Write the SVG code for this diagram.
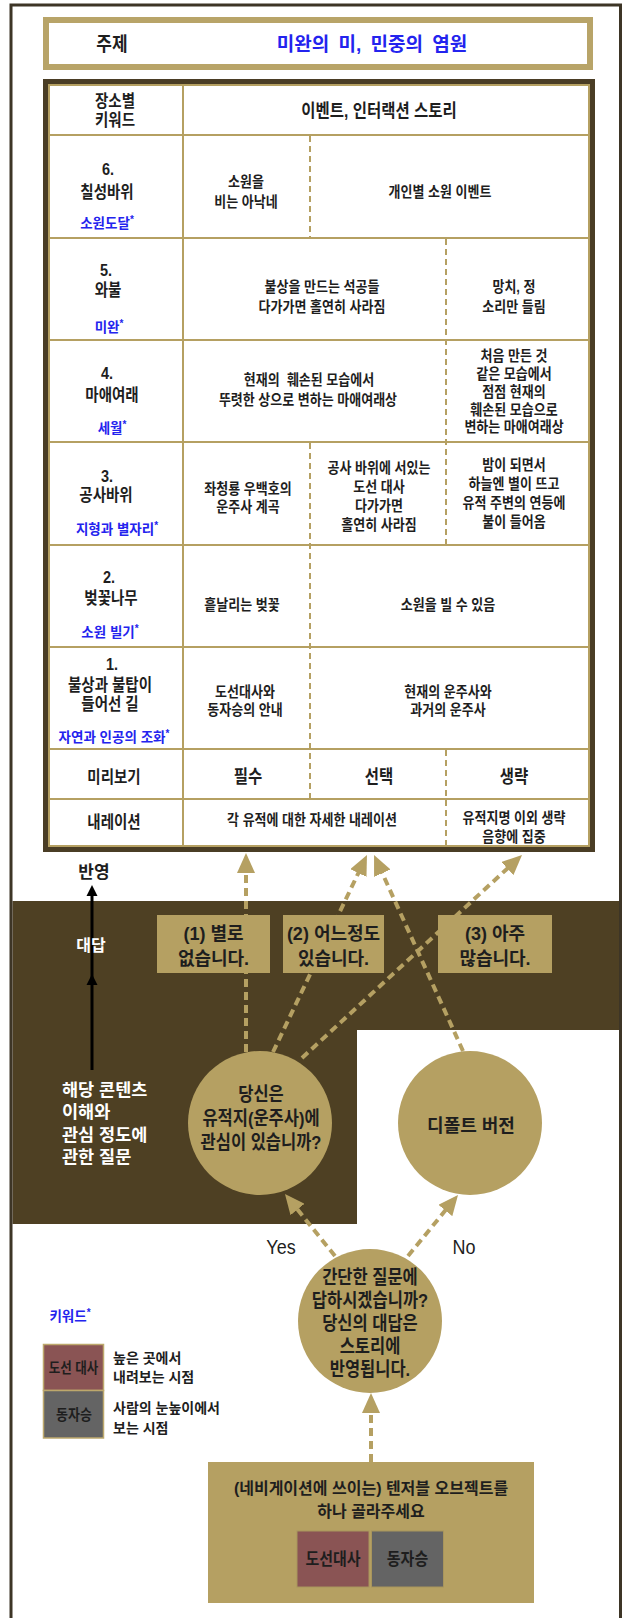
<svg xmlns="http://www.w3.org/2000/svg" width="625" height="1618" viewBox="0 0 625 1618">
<style>
text{font-family:"Liberation Sans","Noto Sans CJK KR",sans-serif;fill:#1e1e1e;text-anchor:middle;dominant-baseline:central;font-weight:bold}
.n{transform-box:fill-box;transform-origin:center;transform:scaleY(1.15)}
.tc{font-size:13px}
.tp{font-size:14.5px}
.kw{font-size:13.5px;font-weight:bold;fill:#2323ee}
.hd{font-size:15.5px}
.ans{font-size:18px}
.cir{font-size:16.5px}
.wt{font-size:17.5px;font-weight:bold;fill:#ffffff;text-anchor:start}
.lg{font-size:14px;text-anchor:start}
.en{font-size:18px;font-weight:normal}
.gl{stroke:#b5a062;stroke-width:2;fill:none}
.gd{stroke:#b5a062;stroke-width:2;stroke-dasharray:6 4;fill:none}
.con{stroke:#b5a062;stroke-width:4;stroke-dasharray:8 5;fill:none}
.gold{fill:#b5a062}
.red{fill:#8a5454;stroke:#bda86c;stroke-width:1.5}
.gray{fill:#646464;stroke:#bda86c;stroke-width:1.5}
</style>
<defs>
<marker id="ah" markerUnits="userSpaceOnUse" markerWidth="20" markerHeight="18" refX="8" refY="9" orient="auto"><path d="M0,0L20,9L0,18Z" fill="#b5a062"/></marker>
</defs>

<g id="band"><polygon points="12.5,901 620,901 620,1030 357,1030 357,1224 12.5,1224" fill="#4e4023"/></g>
<g id="frame"><path d="M11,1618V5H620.5V1618" fill="none" stroke="#3d3526" stroke-width="3"/></g>

<g id="topic">
<rect x="46" y="20" width="544" height="47" fill="#ffffff" stroke="#b8a468" stroke-width="6"/>
<text class="n" x="112" y="44" font-size="17">주제</text>
<text x="372" y="44" font-size="19" style="fill:#2323ee;word-spacing:4px">미완의 미, 민중의 염원</text>
</g>

<g id="table">
<rect x="46" y="82" width="546" height="767" fill="#ffffff" stroke="#4a3d25" stroke-width="6"/>
<rect x="49" y="85" width="540" height="761" class="gl" stroke-width="1.5"/>
<path class="gl" d="M49,135H589M49,238H589M49,340H589M49,442H589M49,545H589M49,647H589M49,749H589M49,799H589M183,85V846"/>
<path class="gd" d="M310,136V237M310,443V798M446,239V544M446,750V846"/>

<g id="row-head">
<text class="n tp" font-size="14"><tspan x="115" y="101.96">장소별</tspan><tspan x="115" y="118.04">키워드</tspan></text>
<text class="n hd" x="379" y="111">이벤트, 인터랙션 스토리</text>
</g>
<g id="row-6">
<text class="n tp"><tspan x="108" y="170.5">6.</tspan><tspan x="107" y="190.5">칠성바위</tspan></text>
<text class="kw" x="107" y="223">소원도달<tspan dy="-4" font-size="10">*</tspan></text>
<text class="n tc"><tspan x="246" y="183.3">소원을</tspan><tspan x="246" y="200.7">비는 아낙네</tspan></text>
<text class="n tc" x="440" y="192">개인별 소원 이벤트</text>
</g>
<g id="row-5">
<text class="n tp"><tspan x="106" y="271.3">5.</tspan><tspan x="108" y="288.7">와불</tspan></text>
<text class="kw" x="109" y="327">미완<tspan dy="-4" font-size="10">*</tspan></text>
<text class="n tc"><tspan x="322" y="288.3">불상을 만드는 석공들</tspan><tspan x="322" y="305.2">다가가면 홀연히 사라짐</tspan></text>
<text class="n tc"><tspan x="514" y="288.3">망치, 정</tspan><tspan x="514" y="305.2">소리만 들림</tspan></text>
</g>
<g id="row-4">
<text class="n tp"><tspan x="107" y="374.4">4.</tspan><tspan x="112" y="393.6">마애여래</tspan></text>
<text class="kw" x="112" y="428">세월<tspan dy="-4" font-size="10">*</tspan></text>
<text class="n tc"><tspan x="309" y="381.3">현재의&#160; 훼손된 모습에서</tspan><tspan x="308" y="398.7">뚜렷한 상으로 변하는 마애여래상</tspan></text>
<text class="n tc"><tspan x="514" y="360.6">처음 만든 것</tspan><tspan x="514" y="376.1">같은 모습에서</tspan><tspan x="514" y="391.5">점점 현재의</tspan><tspan x="514" y="406.9">훼손된 모습으로</tspan><tspan x="514" y="422.4">변하는 마애여래상</tspan></text>
</g>
<g id="row-3">
<text class="n tp"><tspan x="107" y="477.2">3.</tspan><tspan x="106" y="493.8">공사바위</tspan></text>
<text class="kw" x="117" y="529">지형과 별자리<tspan dy="-4" font-size="10">*</tspan></text>
<text class="n tc"><tspan x="248" y="489.7">좌청룡 우백호의</tspan><tspan x="248" y="505.3">운주사 계곡</tspan></text>
<text class="n tc"><tspan x="379" y="471.7">공사 바위에 서있는</tspan><tspan x="379" y="488.2">도선 대사</tspan><tspan x="379" y="504.8">다가가면</tspan><tspan x="379" y="521.3">홀연히 사라짐</tspan></text>
<text class="n tc"><tspan x="514" y="468.7">밤이 되면서</tspan><tspan x="514" y="485.2">하늘엔 별이 뜨고</tspan><tspan x="514" y="501.8">유적 주변의 연등에</tspan><tspan x="514" y="518.3">불이 들어옴</tspan></text>
</g>
<g id="row-2">
<text class="n tp"><tspan x="109" y="578.4">2.</tspan><tspan x="111" y="596.6">벚꽃나무</tspan></text>
<text class="kw" x="110" y="632">소원 빌기<tspan dy="-4" font-size="10">*</tspan></text>
<text class="n tc" x="242" y="605">흩날리는 벚꽃</text>
<text class="n tc" x="448" y="605">소원을 빌 수 있음</text>
</g>
<g id="row-1">
<text class="n tp"><tspan x="112" y="666.6">1.</tspan><tspan x="110" y="684.85">불상과 불탑이</tspan><tspan x="110" y="701.1">들어선 길</tspan></text>
<text class="kw" x="114" y="737">자연과 인공의 조화<tspan dy="-4" font-size="10">*</tspan></text>
<text class="n tc"><tspan x="245" y="693.2">도선대사와</tspan><tspan x="245" y="708.8">동자승의 안내</tspan></text>
<text class="n tc"><tspan x="448" y="693.2">현재의 운주사와</tspan><tspan x="448" y="708.8">과거의 운주사</tspan></text>
</g>
<g id="row-preview">
<text class="n tp" x="114" y="777" font-size="15">미리보기</text>
<text class="n hd" x="248" y="777">필수</text>
<text class="n hd" x="379" y="777">선택</text>
<text class="n hd" x="514" y="777">생략</text>
</g>
<g id="row-narration">
<text class="n tp" x="114" y="822" font-size="15">내레이션</text>
<text class="n tc" x="312" y="819.5">각 유적에 대한 자세한 내레이션</text>
<text class="n tc"><tspan x="514" y="818.7">유적지명 이외 생략</tspan><tspan x="514" y="835.3">음향에 집중</tspan></text>
</g>
</g>

<g id="connectors">
<line class="con" x1="246" y1="1052" x2="246" y2="865" marker-end="url(#ah)"/>
<line class="con" x1="273" y1="1052" x2="361.8" y2="865.8" marker-end="url(#ah)"/>
<line class="con" x1="302" y1="1058" x2="513.2" y2="863.1" marker-end="url(#ah)"/>
<line class="con" x1="463" y1="1051" x2="379" y2="865.9" marker-end="url(#ah)"/>
<line class="con" x1="335" y1="1256" x2="292.5" y2="1203.3" marker-end="url(#ah)"/>
<line class="con" x1="408" y1="1256" x2="450.4" y2="1204.3" marker-end="url(#ah)"/>
<line class="con" x1="371" y1="1462" x2="371" y2="1405" marker-end="url(#ah)"/>
<line x1="92" y1="1070" x2="92" y2="894" stroke="#000000" stroke-width="3"/>
<polygon points="92,885 86.5,896 97.5,896" fill="#000000"/>
<polygon points="92,974 86.5,985 97.5,985" fill="#000000"/>
</g>

<g id="labels-left">
<text x="94" y="872" font-size="17">반영</text>
<text x="91" y="945" font-size="16" style="fill:#ffffff">대답</text>
<text class="wt"><tspan x="62" y="1090">해당 콘텐츠</tspan><tspan x="62" y="1112">이해와</tspan><tspan x="62" y="1135">관심 정도에</tspan><tspan x="62" y="1157">관한 질문</tspan></text>
</g>

<g id="answer-1">
<rect class="gold" x="157" y="915" width="113" height="58"/>
<text class="ans"><tspan x="213.5" y="934">(1) 별로</tspan><tspan x="213.5" y="959">없습니다.</tspan></text>
</g>
<g id="answer-2">
<rect class="gold" x="283" y="915" width="101" height="58"/>
<text class="ans"><tspan x="333.5" y="934">(2) 어느정도</tspan><tspan x="333.5" y="959">있습니다.</tspan></text>
</g>
<g id="answer-3">
<rect class="gold" x="438" y="915" width="114" height="58"/>
<text class="ans"><tspan x="495" y="934">(3) 아주</tspan><tspan x="495" y="959">많습니다.</tspan></text>
</g>

<g id="q-interest">
<circle class="gold" cx="260" cy="1123" r="72"/>
<text class="n cir"><tspan x="261" y="1098.1">당신은</tspan><tspan x="261" y="1119">유적지(운주사)에</tspan><tspan x="261" y="1139.9">관심이 있습니까?</tspan></text>
</g>
<g id="default">
<circle class="gold" cx="470" cy="1123" r="72"/>
<text x="471" y="1126" font-size="18">디폴트 버전</text>
</g>
<g id="q-answer">
<circle class="gold" cx="370" cy="1321" r="72"/>
<text class="n cir" font-size="16"><tspan x="370" y="1284">간단한 질문에</tspan><tspan x="370" y="1304">답하시겠습니까?</tspan><tspan x="370" y="1324">당신의 대답은</tspan><tspan x="370" y="1344">스토리에</tspan><tspan x="370" y="1364">반영됩니다.</tspan></text>
</g>
<g id="yes-no">
<text class="n en" x="281" y="1247">Yes</text>
<text class="n en" x="464" y="1247">No</text>
</g>

<g id="legend">
<text class="kw" x="70" y="1316" font-size="15">키워드<tspan dy="-4" font-size="10">*</tspan></text>
<rect class="red" x="43.5" y="1344.5" width="60" height="46"/>
<rect class="gray" x="43.5" y="1390.5" width="60" height="47.5"/>
<text class="n" x="73.5" y="1368" font-size="12.5">도선 대사</text>
<text class="n" x="74" y="1415" font-size="13">동자승</text>
<text class="lg"><tspan x="113" y="1358">높은 곳에서</tspan><tspan x="113" y="1377">내려보는 시점</tspan></text>
<text class="lg"><tspan x="113" y="1408">사람의 눈높이에서</tspan><tspan x="113" y="1428">보는 시점</tspan></text>
</g>

<g id="tangible">
<rect class="gold" x="208" y="1462" width="326" height="141"/>
<text font-size="16"><tspan x="371" y="1488">(네비게이션에 쓰이는) 텐저블 오브젝트를</tspan><tspan x="371" y="1511">하나 골라주세요</tspan></text>
<rect x="297" y="1531" width="72" height="56" fill="#8a5454" stroke="#a8955c" stroke-width="1"/>
<rect x="371.5" y="1531" width="72" height="56" fill="#646464" stroke="#a8955c" stroke-width="1"/>
<text class="n" x="333" y="1559" font-size="15">도선대사</text>
<text class="n" x="407.5" y="1559" font-size="15">동자승</text>
</g>
</svg>
